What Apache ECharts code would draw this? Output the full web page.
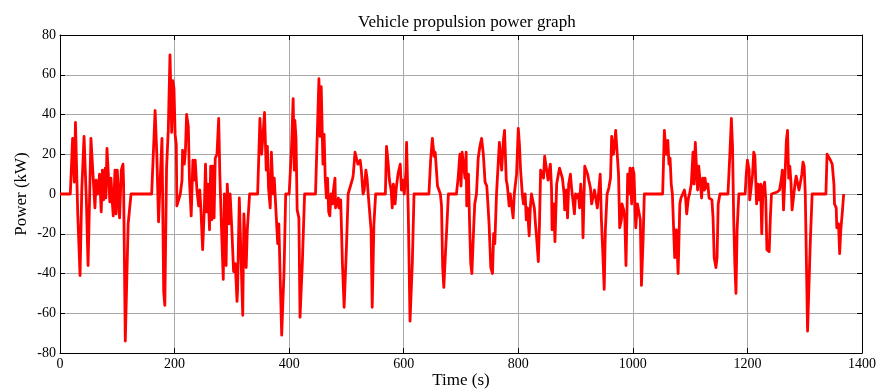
<!DOCTYPE html>
<html>
<head>
<meta charset="utf-8">
<title>Vehicle propulsion power graph</title>
<script src="https://cdn.jsdelivr.net/npm/echarts@6/dist/echarts.min.js"></script>
<style>
  html, body { margin: 0; padding: 0; background: #fff; }
  #chart { width: 881px; height: 389px; }
</style>
</head>
<body>
<div id="chart"></div>
<script>
// Propulsion power over the drive cycle, [time (s), power (kW)], split into 200 s windows
const window0to200 = [[0,0],[18,0],[22,28],[25,6],[27,36],[31,-10],[35,-41],[38,2],[42,29],[46,-3],[49,-36],[54,28],[56,27],[61,-7],[63,7],[66,0],[69,10],[72,-9],[74,12],[76,-3],[79,13],[80,-2],[82,23],[84,12],[87,-4],[89,8],[91,-3],[93,-11],[96,12],[98,-10],[100,12],[102,0],[104,-12],[107,12],[110,15],[111,5],[114,-74],[116,-50],[119,-15],[124,0],[160,0],[166,42],[169,20],[172,-14],[175,8],[178,28],[179,3],[181,-49],[183,-56],[186,13],[189,32],[192,70],[194,69],[195,31],[197,57],[199,53]];
const window200to400 = [[201,30],[203,25],[204,-6],[207,-5],[210,0],[213,7],[214,22],[217,15],[219,22],[221,40],[224,34],[226,7],[229,-11],[232,17],[234,7],[236,17],[239,2],[242,-6],[244,2],[246,-8],[249,-28],[252,-7],[254,15],[256,-9],[258,5],[261,-18],[263,14],[265,-13],[267,14],[269,-12],[271,18],[274,20],[277,38],[279,10],[282,-18],[285,-43],[287,0],[290,-36],[292,5],[295,-15],[297,0],[300,-18],[303,-39],[306,-35],[309,-54],[310,-48],[313,-2],[316,-32],[319,-61],[321,-10],[325,-37],[327,-18],[331,0],[345,0],[349,38],[352,20],[355,32],[357,41],[360,12],[362,24],[364,3],[367,-7],[369,21],[372,0],[374,8],[377,9],[380,-25],[382,-15],[384,-38],[387,-71],[389,-55],[391,-40],[394,0],[400,0]];
const window400to600 = [[404,22],[407,48],[409,12],[410,37],[412,28],[414,-8],[417,-12],[419,-62],[423,-35],[427,0],[446,0],[449,29],[452,58],[454,29],[456,54],[459,15],[461,30],[463,8],[465,-2],[467,8],[469,-9],[471,-11],[473,0],[476,-5],[477,1],[480,8],[481,-7],[483,-8],[486,-2],[487,-7],[490,-3],[493,-35],[496,-57],[500,-27],[503,0],[506,0],[511,8],[512,10],[515,21],[518,20],[520,15],[524,17],[526,12],[529,0],[531,2],[534,12],[536,8],[538,0],[540,0],[543,-18],[545,-57],[548,-15],[551,0],[568,0],[570,24],[573,15],[575,7],[578,2],[580,-7],[582,5],[585,-5],[587,3],[590,10],[594,15],[596,2],[598,7]];
const window600to800 = [[601,0],[604,12],[605,26],[608,-10],[611,-64],[615,-35],[618,0],[644,0],[647,17],[650,28],[653,19],[655,21],[659,4],[661,4],[664,0],[666,-6],[668,-37],[670,-47],[673,-29],[675,-18],[678,0],[692,0],[695,8],[698,20],[700,4],[702,21],[705,22],[707,8],[709,21],[710,-6],[713,10],[715,-15],[717,-35],[719,-40],[722,-18],[724,-5],[727,0],[730,18],[733,24],[736,28],[739,20],[742,6],[745,4],[747,-5],[749,-15],[752,-37],[755,-40],[757,-20],[759,-25],[762,0],[764,0],[767,26],[769,27],[771,12],[774,27],[776,32],[779,7],[781,4],[784,-6],[786,0],[788,0],[791,-12],[793,0],[797,10],[800,33]];
const window800to1000 = [[802,25],[804,12],[807,0],[809,-5],[812,0],[814,-13],[816,-7],[819,-21],[821,-7],[823,0],[825,0],[828,-7],[830,-15],[832,-22],[835,-34],[837,-15],[839,12],[842,13],[844,8],[846,19],[849,19],[852,7],[853,10],[856,15],[858,3],[859,-18],[862,-5],[864,-24],[867,5],[870,10],[872,13],[874,13],[877,8],[880,0],[881,-8],[884,2],[886,-12],[888,5],[891,10],[893,3],[895,-2],[898,-10],[900,0],[902,-2],[905,0],[907,-7],[909,5],[912,-7],[913,-22],[916,14],[919,15],[921,10],[923,7],[926,3],[928,-5],[930,-5],[933,2],[935,3],[938,-7],[941,-8],[943,10],[945,-12],[948,-33],[950,-48],[952,-18],[955,0],[958,3],[961,8],[963,29],[966,20],[968,25],[970,32],[973,33],[975,10],[977,-17],[980,-13],[981,-5],[984,-8],[986,-13],[988,-36],[991,10],[993,0],[995,13],[998,-5],[1000,13]];
const window1000to1200 = [[1002,10],[1005,-17],[1008,-5],[1011,-5],[1013,-13],[1015,-46],[1018,-22],[1020,0],[1052,0],[1055,32],[1058,20],[1061,27],[1063,15],[1065,18],[1067,5],[1069,0],[1071,0],[1073,-32],[1076,-18],[1079,-40],[1082,-5],[1084,-2],[1087,0],[1090,2],[1092,-2],[1094,-10],[1097,-2],[1099,0],[1102,5],[1105,21],[1107,5],[1109,26],[1111,25],[1113,2],[1115,14],[1118,14],[1120,-2],[1122,8],[1125,2],[1126,8],[1128,3],[1131,5],[1133,-2],[1135,-3],[1138,-3],[1140,-12],[1142,-32],[1145,-37],[1147,-32],[1149,-5],[1152,0],[1166,0],[1169,18],[1172,38],[1174,24],[1176,-12],[1178,-35],[1180,-50],[1182,-18],[1185,0],[1196,0],[1198,10]];
const window1200to1369 = [[1200,17],[1203,12],[1204,-3],[1206,2],[1209,10],[1211,21],[1213,19],[1216,-5],[1218,5],[1220,-3],[1223,5],[1225,-20],[1227,3],[1230,6],[1232,-3],[1234,-28],[1238,-29],[1240,-12],[1242,0],[1252,1],[1256,2],[1259,7],[1261,12],[1263,-8],[1266,12],[1268,27],[1270,32],[1272,8],[1274,14],[1276,6],[1278,-8],[1281,-8],[1283,5],[1285,9],[1288,9],[1290,2],[1292,5],[1295,10],[1297,16],[1299,14],[1301,0],[1303,-35],[1305,-69],[1307,-50],[1310,-22],[1313,0],[1337,0],[1339,20],[1342,19],[1345,17],[1348,15],[1351,5],[1352,-5],[1355,-7],[1356,-17],[1359,-15],[1361,-30],[1363,-18],[1366,-8],[1368,0]];

// Axis ranges and tick spacing
const timeTicks = { min: 0, max: 1400, interval: 200 };
const powerTicks = { min: -80, max: 80, interval: 20 };

const powerTrace = [].concat(window0to200, window200to400, window400to600,
  window600to800, window800to1000, window1000to1200, window1200to1369);

const serif = '"Liberation Serif", "Times New Roman", serif';
const gridLine = { show: true, lineStyle: { color: '#a8a8a8', width: 1, type: 'solid' } };
const frameLine = { show: true, onZero: false, lineStyle: { color: '#000', width: 1 } };
const innerTick = { show: true, inside: true, length: 5, lineStyle: { color: '#000' } };
const plainNumber = v => String(v);

const chart = echarts.init(document.getElementById('chart'), null, { renderer: 'canvas' });
chart.setOption({
  animation: false,
  backgroundColor: '#fff',
  title: {
    text: 'Vehicle propulsion power graph',
    left: 353,
    top: 9,
    textStyle: { fontFamily: serif, fontSize: 17, fontWeight: 'normal', color: '#000' }
  },
  grid: { left: 60, right: 19, top: 35, bottom: 36, containLabel: false, outerBoundsMode: 'none' },
  xAxis: [
    {
      type: 'value', position: 'bottom',
      min: timeTicks.min, max: timeTicks.max, interval: timeTicks.interval,
      name: 'Time (s)', nameLocation: 'middle', nameGap: 19, nameMoveOverlap: false,
      nameTextStyle: { fontFamily: serif, fontSize: 17, color: '#000' },
      axisLine: frameLine, axisTick: innerTick,
      axisLabel: { fontFamily: serif, fontSize: 14, color: '#000', margin: 4, formatter: plainNumber },
      splitLine: gridLine
    },
    {
      type: 'value', position: 'top',
      min: timeTicks.min, max: timeTicks.max, interval: timeTicks.interval,
      axisLine: frameLine, axisTick: innerTick,
      axisLabel: { show: false }, splitLine: { show: false }
    }
  ],
  yAxis: [
    {
      type: 'value', position: 'left',
      min: powerTicks.min, max: powerTicks.max, interval: powerTicks.interval,
      name: 'Power (kW)', nameLocation: 'middle', nameGap: 30, nameRotate: 90, nameMoveOverlap: false,
      nameTextStyle: { fontFamily: serif, fontSize: 17, color: '#000' },
      axisLine: frameLine, axisTick: innerTick,
      axisLabel: { fontFamily: serif, fontSize: 14, color: '#000', margin: 4, formatter: plainNumber },
      splitLine: gridLine
    },
    {
      type: 'value', position: 'right',
      min: powerTicks.min, max: powerTicks.max, interval: powerTicks.interval,
      axisLine: frameLine, axisTick: innerTick,
      axisLabel: { show: false }, splitLine: { show: false }
    }
  ],
  series: [
    {
      name: 'Power',
      type: 'line',
      xAxisIndex: 0, yAxisIndex: 0,
      data: powerTrace,
      showSymbol: false,
      symbol: 'none',
      lineStyle: { color: '#ff0000', width: 2.8, join: 'round' },
      z: 5
    }
  ]
});
</script>
</body>
</html>
